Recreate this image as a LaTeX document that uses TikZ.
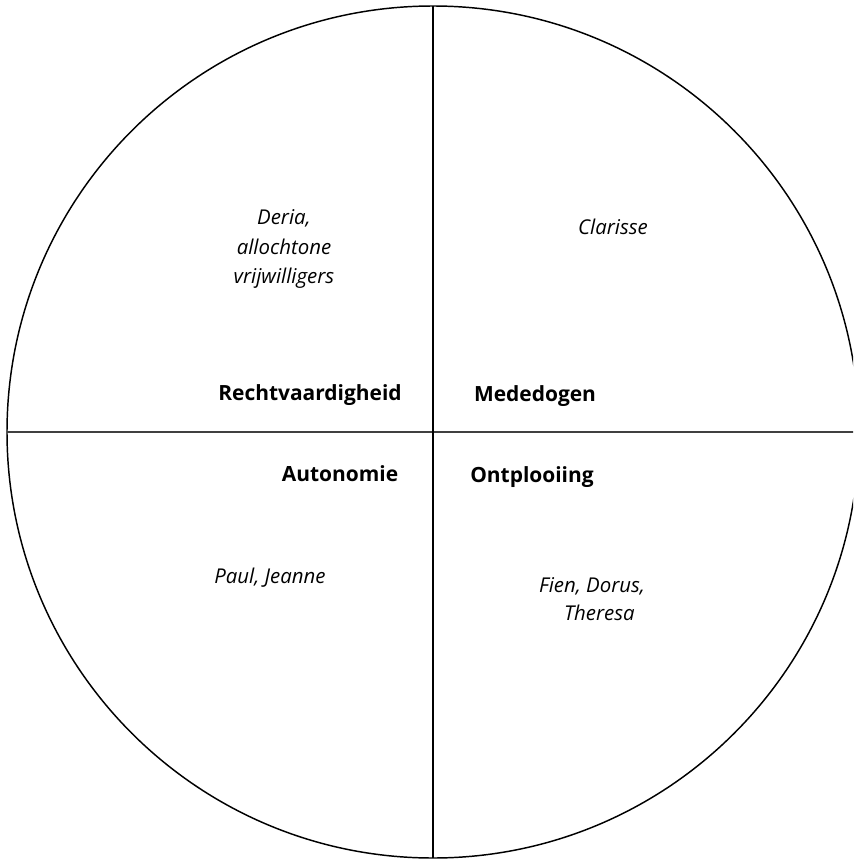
\documentclass[tikz,border=0pt]{standalone}
\usepackage{fontspec}
\setmainfont{Open Sans}
\begin{document}
\begin{tikzpicture}[x=0.75pt,y=-0.75pt,
  ring/.style={line width=1.1pt, black},
  axis/.style={line width=1.1pt, black!75},
  person/.style={font=\fontsize{15.3}{22}\selectfont\itshape, align=center, inner sep=0pt},
  virtue/.style={font=\fontsize{15.7}{18}\selectfont\bfseries, inner sep=0pt}]
  \useasboundingbox (0,0) rectangle (853,859);
  \clip (0,0) rectangle (853,859);
  % circle divided into four quadrants
  \coordinate (c) at (433,432);
  \coordinate (w) at (7,432);
  \coordinate (e) at (859,432);
  \coordinate (n) at (433,6);
  \coordinate (s) at (433,858);
  \draw[ring] (c) circle[radius=426*0.75pt];
  \draw[axis] (w) -- (e);
  \draw[ring] (n) -- (s);
  % values near the centre
  \node[virtue] (recht) at (310,395) {Rechtvaardigheid};
  \node[virtue] (mede) at (535,396) {Mededogen};
  \node[virtue] (auto) at (340,474) {Autonomie};
  \node[virtue] (ontp) at (532,477) {Ontplooiing};
  % names in each quadrant
  \node[person] (deria) at (284,249) {Deria,\\allochtone\\vrijwilligers};
  \node[person] (clar) at (613,227) {Clarisse};
  \node[person] (paul) at (270,578) {Paul, Jeanne};
  \node[person, font=\fontsize{15.3}{21}\selectfont\itshape] (fien) at (592,599) {Fien, Dorus,\\\hspace*{11pt}Theresa};
\end{tikzpicture}
\end{document}
